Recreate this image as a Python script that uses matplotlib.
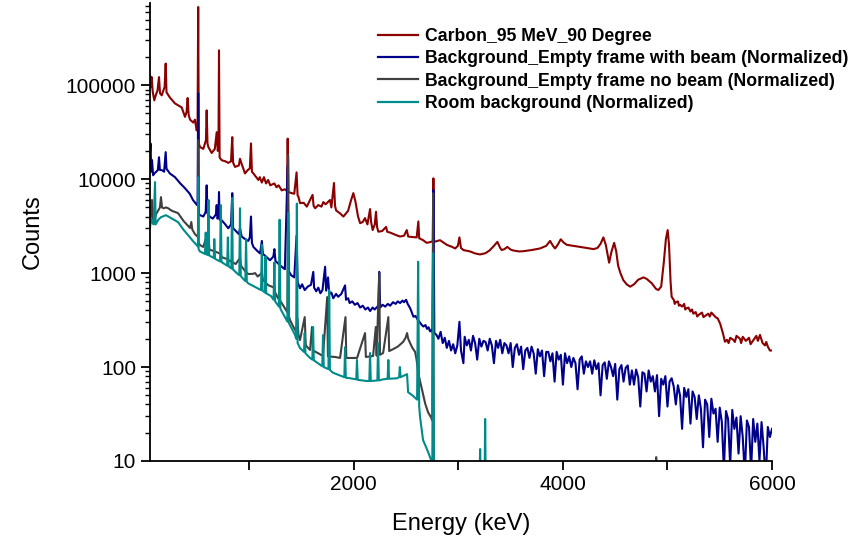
import numpy as np
import matplotlib; matplotlib.use("Agg"); import matplotlib.pyplot as plt
from matplotlib.ticker import FixedLocator, NullFormatter, FuncFormatter, LogLocator

plt.rcParams["font.family"] = ["Liberation Sans", "DejaVu Sans"]

# (energy keV, counts)
carbon = [(50,128000),(58,95000),(66,122000),(76,85000),(91,69000),(108,80000),(122,88000),(136,122000),(146,82000),
          (162,78000),(178,88000),(190,96000),(200,170000),(208,84000),(240,74000),(289,64000),(321,61000),(353,58000),
          (385,46000),(400,52000),(410,73000),(420,48000),(433,43000),(464,40000),(480,43000),(496,33000),(505,36000),
          (511,680000),(517,24000),(528,22000),(560,21000),(585,26000),(592,54000),(600,24000),(608,22000),(640,19000),
          (670,21000),(688,31600),(698,20000),(705,22000),(710,235000),(716,17000),(736,15900),(770,15500),(799,14900),
          (825,15500),(837,28000),(845,15000),(863,13500),(900,14000),(911,16500),(927,14500),(959,11500),(985,12500),
          (1005,13000),(1016,24000),(1025,12000),(1039,11500),(1087,9800),(1100,10500),(1120,9200),(1140,10500),
          (1160,9000),(1180,9800),(1200,8600),(1240,9000),(1260,8200),(1280,8600),(1310,7600),(1340,7800),(1360,7500),
          (1367,27000),(1375,7300),(1404,7100),(1430,7000),(1452,11800),(1462,6700),(1470,6500),(1485,5560),(1520,5600),
          (1550,5100),(1605,6800),(1615,5200),(1630,4900),(1660,5300),(1690,5100),(1708,5700),(1730,5400),(1772,6000),
          (1785,5000),(1810,9100),(1820,5200),(1830,4650),(1870,4300),(1900,4000),(1945,4600),(1970,5800),(1995,7100),
          (2015,5800),(2040,4000),(2060,3400),(2085,3500),(2107,3850),(2130,3300),(2155,4800),(2165,3500),(2180,2870),
          (2200,3300),(2212,4500),(2222,3100),(2234,2760),(2270,2800),(2308,3100),(2320,2750),(2347,2700),(2400,2550),
          (2442,2450),(2480,2500),(2506,2870),(2520,2450),(2560,2420),(2601,2400),(2617,3550),(2625,2350),(2660,2250),
          (2697,2100),(2740,2150),(2755,2200),(2761,10200),(2767,2150),(2800,2200),(2825,2240),(2889,2000),(2940,1900),
          (2969,1830),(2995,1950),(3010,2400),(3025,1850),(3048,1760),(3112,1700),(3160,1620),(3207,1580),(3260,1630),
          (3300,1750),(3340,1950),(3373,2150),(3400,1850),(3414,1760),(3440,1800),(3468,1900),(3500,1780),(3526,1740),
          (3580,1700),(3621,1710),(3700,1760),(3781,1830),(3840,1950),(3877,2200),(3905,1950),(3925,1830),(3950,2000),
          (3979,2290),(4010,2100),(4037,2000),(4100,1950),(4164,1900),(4230,1850),(4292,1800),(4330,1850),(4360,2050),
          (4387,2400),(4410,2000),(4442,1290),(4465,1700),(4490,2100),(4510,1700),(4528,1200),(4550,1000),(4578,840),
          (4610,760),(4643,717),(4680,760),(4720,850),(4770,900),(4800,870),(4850,780),(4890,680),(4913,660),(4940,720),
          (4965,1300),(4985,2300),(5002,2870),(5015,2000),(5030,800),(5040,560),(5060,520),(5070,470),(5080,490),
          (5100,500),(5110,450),(5121,460),(5140,440),(5160,470),(5170,410),(5180,420),(5200,430),(5220,390),(5235,410),
          (5248,370),(5270,385),(5285,345),(5300,360),(5330,380),(5345,340),(5360,350),(5390,370),(5405,345),(5420,380),
          (5439,360),(5460,340),(5480,330),(5504,290),(5530,230),(5550,186),(5570,195),(5585,180),(5600,205),(5630,195),
          (5645,185),(5660,215),(5694,200),(5705,180),(5720,210),(5750,190),(5780,205),(5795,175),(5810,185),(5850,215),
          (5865,190),(5885,220),(5910,180),(5933,170),(5945,185),(5960,165),(5980,150),(6000,150)]

beam = [(50,19000),(55,24000),(62,12000),(69,16000),(80,11000),(91,11500),(110,12000),(125,12500),(136,17100),
        (145,12500),(162,12500),(185,12000),(200,19400),(208,12900),(240,11500),(289,10500),(340,9000),(385,8000),
        (430,7000),(461,6000),(500,5290),(505,5500),(511,82000),(517,4300),(528,4140),(560,4000),(583,4500),(592,8600),
        (600,4300),(624,3980),(650,3800),(680,4200),(688,5300),(695,3800),(705,4000),(710,7300),(716,3700),(736,3650),
        (770,3300),(799,3000),(825,3300),(837,7100),(845,3000),(863,2870),(900,2600),(911,3000),(927,2450),(960,2300),
        (990,2200),(1005,2400),(1016,4000),(1025,2100),(1039,1900),(1070,1750),(1103,1620),(1120,2200),(1130,1600),
        (1160,1500),(1198,1370),(1230,1500),(1240,1800),(1250,1350),(1280,1250),(1310,1170),(1340,1100),(1367,14000),
        (1378,1050),(1400,950),(1430,900),(1452,2500),(1462,800),(1485,690),(1505,760),(1530,660),(1560,720),(1590,750),
        (1612,1030),(1620,700),(1640,640),(1660,700),(1680,610),(1700,660),(1725,1170),(1735,650),(1753,900),(1765,600),
        (1785,620),(1803,540),(1830,600),(1850,560),(1880,600),(1916,740),(1925,520),(1945,540),(1960,480),(1985,500),
        (2010,460),(2035,480),(2060,430),(2085,450),(2110,410),(2135,430),(2155,395),(2180,430),(2200,410),(2225,440),
        (2235,430),(2243,1030),(2252,430),(2275,460),(2300,440),(2325,470),(2347,450),(2375,490),(2400,470),(2420,500),
        (2442,480),(2465,510),(2480,490),(2500,520),(2515,470),(2540,420),(2555,380),(2570,343),(2590,350),(2610,320),
        (2630,300),(2650,280),(2665,270),(2685,280),(2700,255),(2715,265),(2729,240),(2745,250),(2752,235),(2761,7640),
        (2770,230),(2790,220),(2809,200),(2830,237),(2850,180),(2870,205),(2889,160),(2910,190),(2930,150),(2950,175),
        (2970,140),(2990,170),(3010,303),(3025,150),(3048,110)]

# noisy high-energy tail of the beam background, 20 keV steps
beam_tail_e = [3060,3080,3100,3120,3140,3160,3180,3200,3220,3240,3260,3280,3300,3320,3340,3360,3380,3400,3420,3440,
               3460,3480,3500,3520,3540,3560,3580,3600,3620,3640,3660,3680,3700,3720,3740,3760,3780,3800,3820,3840,
               3860,3880,3900,3920,3940,3960,3980,4000,4020,4040,4060,4080,4100,4120,4140,4160,4180,4200,4220,4240,
               4260,4280,4300,4320,4340,4360,4380,4400,4420,4440,4460,4480,4500,4520,4540,4560,4580,4600,4620,4640,
               4660,4680,4700,4720,4740,4760,4780,4800,4820,4840,4860,4880,4900,4920,4940,4960,4980,5000,5020,5040,
               5060,5080,5100,5120,5140,5160,5180,5200,5220,5240,5260,5280,5300,5320,5340,5360,5380,5400,5420,5440,
               5460,5480,5500,5520,5540,5560,5580,5600,5620,5640,5660,5680,5700,5720,5740,5760,5780,5800,5820,5840,
               5860,5880,5900,5920,5940,5960,5980,6000]
beam_tail_c = [210,170,195,150,215,180,120,200,165,190, 185,150,200,170,110,190,160,195,140,180,
               170,140,180,100,160,175,135,165,95,150, 160,125,165,140,85,155,130,150,80,145,
               145,115,140,70,145,120,135,65,140,110, 130,100,125,110,58,120,130,85,115,100,
               115,85,118,95,110,50,105,112,75,115, 100,80,108,45,95,105,70,98,104,65,
               92,65,94,78,38,88,85,55,92,70, 80,55,82,30,75,65,80,38,70,76,
               62,40,64,50,22,60,48,58,25,55, 48,28,50,36,14,45,40,18,46,32,
               36,16,37,26,8,34,28,9,35,22, 29,12,30,18,7,27,23,8,28,16,
               25,10,26,14,6,23,18,22]

nobeam = [(50,4140),(56,5500),(62,4000),(69,6000),(76,3800),(91,3650),(110,4300),(129,4650),(145,5000),(155,6440),
          (165,5000),(180,4900),(203,5000),(222,4910),(260,4600),(318,4350),(370,3600),(433,3020),(445,3500),(455,2900),
          (480,2600),(509,2420),(511,26000),(515,2100),(528,1990),(560,1900),(583,2300),(590,1850),(609,2600),(618,1780),
          (672,1700),(727,1600),(735,1480),(780,1420),(825,1330),(870,1250),(911,1450),(920,1200),(960,1050),(988,980),
          (1030,980),(1055,1000),(1080,920),(1120,1000),(1130,850),(1180,745),(1238,700),(1248,620),(1275,540),(1310,480),
          (1342,420),(1365,380),(1371,18000),(1378,350),(1390,316),(1420,270),(1447,238),(1460,330),(1470,220),(1485,194),
          (1530,340),(1540,170),(1581,152),(1600,267),(1610,150),(1660,140),(1705,131),(1745,556),(1752,130),(1820,128),
          (1868,125),(1920,340),(1928,125),(1980,125),(2031,125),(2107,230),(2115,128),(2184,131),(2210,267),(2218,132),
          (2243,1000),(2250,135),(2280,141),(2330,340),(2338,148),(2375,155),(2420,165),(2471,185),(2495,205),(2509,230),
          (2520,200),(2538,180),(2560,160),(2586,145),(2600,120),(2615,88),(2634,70),(2653,57),(2682,41),(2710,33),
          (2739,29),(2750,27),(2758,7100),(2766,4),(2900,4),(4884,4),(4892,11),(4900,4),(6000,4)]

room = [(50,3020),(60,3800),(69,3490),(85,3300),(98,9300),(104,3300),(130,3700),(155,3940),(203,4140),(260,3800),
        (318,3490),(370,2900),(414,2540),(460,2200),(509,1920),(511,10500),(515,1800),(528,1700),(576,1600),(583,2700),
        (590,1580),(602,1560),(609,6000),(616,1540),(660,1450),(665,2300),(672,1420),(720,1330),(727,5300),(734,1310),
        (788,1200),(795,2400),(802,1180),(828,1120),(835,6300),(842,1100),(880,1000),(904,950),(911,4900),(918,930),
        (962,820),(969,2300),(976,810),(988,780),(1112,659),(1120,2000),(1127,650),(1150,620),(1155,1500),(1162,610),
        (1208,569),(1232,520),(1240,1300),(1247,500),(1283,440),(1290,3700),(1297,420),(1304,404),(1364,305),(1371,4350),
        (1378,295),(1438,219),(1448,200),(1455,5500),(1462,180),(1485,159),(1523,145),(1530,230),(1537,140),(1581,125),
        (1603,120),(1610,267),(1617,118),(1698,102),(1705,219),(1712,100),(1757,95),(1764,660),(1771,93),(1801,87),
        (1909,78),(1916,163),(1923,77),(1964,76),(2023,74),(2030,119),(2037,73),(2126,71),(2148,71),(2155,141),(2162,71),
        (2225,72),(2232,180),(2239,72),(2280,74),(2323,75),(2330,119),(2337,75),(2414,76),(2433,78),(2440,100),(2447,78),
        (2509,84),(2519,54),(2560,50),(2605,45),(2615,1320),(2625,38),(2634,29),(2662,16.7),(2710,12.5),(2739,10.2),
        (2750,6),(2758,1630),(2766,5),(3200,5),(3208,13.4),(3216,5),(3250,5),(3256,28),(3262,5),(3300,5)]

be, bc = np.array(beam, dtype=float).T
be = np.concatenate([be, beam_tail_e]); bc = np.concatenate([bc, beam_tail_c])

series = [(np.array(carbon, dtype=float).T, "#8b0000", "Carbon_95 MeV_90 Degree"),
          ((be, bc), "#00008b", "Background_Empty frame with beam (Normalized)"),
          (np.array(nobeam, dtype=float).T, "#404040", "Background_Empty frame no beam (Normalized)"),
          (np.array(room, dtype=float).T, "#008b8b", "Room background (Normalized)")]

fig = plt.figure(figsize=(8.53, 5.40), dpi=100)
ax = fig.add_axes([150/853, 79/540, 622/853, 458/540])
for (e, c), col, lab in series:
    ax.plot(e, c, color=col, lw=1.5, label=lab)

ax.set_yscale("log")
ax.set_xlim(50, 6000); ax.set_ylim(10, 7.5e5)
for s in ("top", "right"): ax.spines[s].set_visible(False)
for s in ("left", "bottom"): ax.spines[s].set_linewidth(1.3)
ax.xaxis.set_major_locator(FixedLocator([2000, 4000, 6000]))
ax.xaxis.set_minor_locator(FixedLocator([1000, 3000, 5000]))
ax.yaxis.set_major_locator(LogLocator(base=10, numticks=10))
ax.yaxis.set_minor_locator(LogLocator(base=10, subs=np.arange(2, 10), numticks=10))
ax.yaxis.set_major_formatter(FuncFormatter(lambda v, _: f"{int(round(v))}"))
ax.yaxis.set_minor_formatter(NullFormatter())
ax.tick_params(axis="both", which="major", direction="out", length=6.5, width=1.3, labelsize=15)
ax.tick_params(axis="x", which="minor", direction="out", length=6.5, width=1.3)
ax.tick_params(axis="y", which="minor", direction="out", length=3.5, width=1.0)
ax.set_xlabel("Energy (keV)", fontsize=17, labelpad=14)
ax.set_ylabel("Counts", fontsize=17, labelpad=16)

leg = ax.legend(loc="upper left", bbox_to_anchor=(378/853, 1-28/540), bbox_transform=fig.transFigure,
                frameon=False, fontsize=12.7, handlelength=2.27, handletextpad=0.4, labelspacing=0.3,
                borderpad=0, borderaxespad=0)
for t in leg.get_texts(): t.set_fontweight("bold")
for h in leg.get_lines(): h.set_linewidth(1.6)

fig.savefig("out.png", dpi=100)
